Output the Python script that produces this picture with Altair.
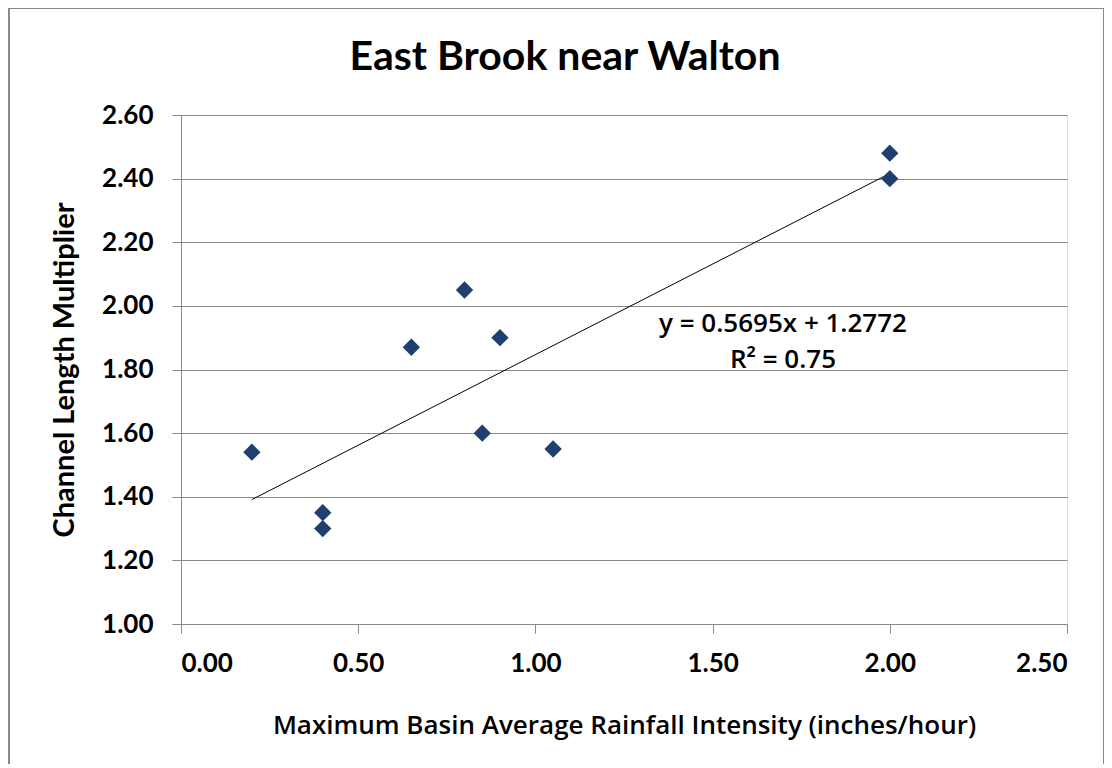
import altair as alt
import pandas as pd

rain = [0.2, 0.4, 0.4, 0.65, 0.8, 0.85, 0.9, 1.05, 2.0, 2.0]
mult = [1.54, 1.35, 1.30, 1.87, 2.05, 1.60, 1.90, 1.55, 2.48, 2.40]
x_ticks = [0, 0.5, 1.0, 1.5, 2.0, 2.5]
y_ticks = [1.0, 1.2, 1.4, 1.6, 1.8, 2.0, 2.2, 2.4, 2.6]
title_text = "East Brook near Walton"
eq_line1 = "y = 0.5695x + 1.2772"
eq_line2 = "R² = 0.75"

df = pd.DataFrame({"x": rain, "y": mult})
FONT = "Lato"
FONT2 = "Open Sans"

xs = alt.Scale(domain=[0, 2.5], nice=False, zero=False)
ys = alt.Scale(domain=[1.0, 2.6], nice=False, zero=False)

xax = alt.Axis(values=x_ticks, format=".2f", grid=False,
               domainColor="#888888", tickColor="#888888", tickSize=9,
               labelFont=FONT, labelFontSize=26, labelFontWeight="bold", labelColor="#000000",
               labelPadding=17, title="Maximum Basin Average Rainfall Intensity (inches/hour)",
               titleFont=FONT2, titleFontSize=26, titleFontWeight=600, titleColor="#000000",
               titlePadding=36)
yax = alt.Axis(values=y_ticks, format=".2f",
               grid=True, gridColor="#888888", gridWidth=1,
               domainColor="#888888", tickColor="#888888", tickSize=9,
               labelFont=FONT, labelFontSize=26, labelFontWeight="bold", labelColor="#000000",
               labelPadding=19, title="Channel Length Multiplier",
               titleFont=FONT, titleFontSize=29, titleFontWeight="bold", titleColor="#000000",
               titlePadding=22)

base = alt.Chart(df)
one = alt.Chart(pd.DataFrame({"k": [0]}))

border = one.mark_rect(fill="#ffffff", fillOpacity=0, stroke="#888888", strokeWidth=2, clip=False).encode(
    x=alt.value(-172), x2=alt.value(923), y=alt.value(-107), y2=alt.value(660)
)

pts = base.mark_point(shape="diamond", filled=True, color="#1F3F6E", size=300, opacity=1).encode(
    x=alt.X("x:Q", scale=xs, axis=xax),
    y=alt.Y("y:Q", scale=ys, axis=yax),
)

trend = base.transform_regression("x", "y").mark_line(color="#000000", strokeWidth=1).encode(
    x=alt.X("x:Q", scale=xs), y=alt.Y("y:Q", scale=ys)
)

def txt(s, x, y, size, weight, font):
    return one.mark_text(text=s, font=font, fontSize=size, fontWeight=weight, color="#000000",
                         align="center", baseline="middle", clip=False).encode(
        x=alt.value(x), y=alt.value(y))

eq1 = txt(eq_line1, 602, 209, 26, 600, FONT2)
eq2 = txt(eq_line2, 602, 245, 26, 600, FONT2)
ttl = txt(title_text, 384, -57, 41, "bold", FONT)

chart = alt.layer(border, trend, pts, eq1, eq2, ttl).properties(
    width=886, height=509,
    autosize=alt.AutoSizeParams(type="none"),
    padding={"left": 173, "top": 107, "right": 37, "bottom": 140},
).configure_view(stroke=None).configure(background="#ffffff")

chart.save("out.html", embed_options={"renderer": "svg", "actions": False})
